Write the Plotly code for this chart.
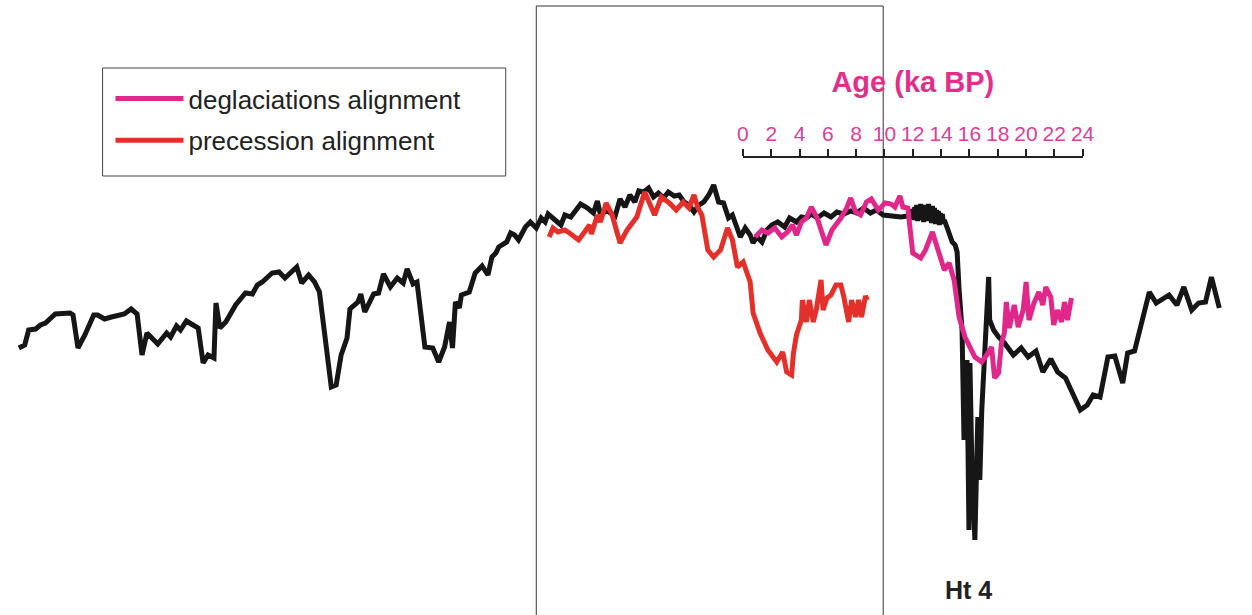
import plotly.graph_objects as go

# Black reference record, plotted against core depth (cm)
black_depth = [2.6, 3.8, 4.6, 6.0, 7.0, 8.0, 10.0, 11.4, 13.0, 13.6, 14.6, 16.0, 17.8, 18.6, 20.0, 21.4, 22.6, 24.0, 25.4, 26.6,
               27.6, 28.6, 30.8, 32.6, 33.4, 34.6, 35.4, 36.6, 37.6, 39.0, 40.0, 41.0, 42.2, 42.6, 43.4,
               44.6, 46.6, 48.6, 50.0, 51.0, 52.0, 54.0, 55.4, 56.6, 59.0, 60.0, 61.4, 62.6, 63.6, 65.0, 66.0, 67.0, 68.0,
               69.2, 69.8, 71.4, 72.0, 72.8, 74.6, 75.6, 76.6, 78.0, 79.4, 80.6, 81.4, 82.6, 83.4,
               85.0, 86.6, 87.8, 89.0, 90.0, 90.6, 91.2, 92.0, 92.4, 94.0, 95.2, 96.6, 97.8, 98.6, 99.4, 100.0, 100.6,
               101.6, 102.4, 103.2, 104.0, 105.4, 106.4, 107.6, 108.6, 109.4, 110.0, 111.4, 112.6, 113.4, 114.6, 116.6,
               118.0, 119.2,
               120.0, 120.6, 122.0, 123.6, 124.6, 125.6, 126.6, 127.6, 128.4, 129.4, 130.4, 131.4, 132.4, 133.4, 134.4,
               135.6, 136.6, 137.6, 138.6, 139.6, 140.6, 141.6, 142.6, 143.6, 144.6, 145.6, 146.6, 147.4, 148.0, 149.0,
               150.0, 151.0, 151.6, 152.4, 153.4, 154.4, 155.4, 156.6, 158.0, 159.0, 160.4, 161.4, 162.4, 163.4, 164.6,
               166.0, 167.4, 168.6, 170.0, 171.4, 172.6, 174.0, 175.4, 176.6, 178.0, 180.0, 181.6, 183.0, 183.6,
               184.0, 184.2, 184.4, 184.6, 184.8, 185.0, 185.2, 185.4, 185.6, 185.8, 186.0, 186.2, 186.4, 186.6, 186.8,
               187.0, 187.2, 187.4, 187.6, 187.8, 188.0, 188.2, 188.4, 188.6, 188.8, 189.0, 189.2, 189.4, 189.6, 189.8,
               190.0, 190.2, 190.4,
               191.0, 191.4, 192.0, 192.6, 193.0, 193.4, 194.0, 194.4, 195.0, 195.4, 195.6, 196.0, 196.6, 197.2, 197.6,
               198.0, 198.6, 199.4, 199.6, 200.4, 201.4, 202.6, 204.4, 206.0, 207.4, 209.0, 210.4, 212.0, 213.4, 215.0,
               218.0, 219.4, 220.6, 222.0, 223.6, 225.0, 226.6, 227.6, 229.0, 230.6, 232.0, 233.4, 236.0, 237.6, 239.0,
               240.6, 242.0, 243.4, 244.6, 246.2]
black_value = [5.2, 5.5, 7.0, 7.1, 7.5, 7.7, 8.6, 8.6, 8.7, 8.5, 5.2, 6.5, 8.5, 8.5, 8.1, 8.3, 8.4, 8.6, 9.1, 8.6,
               4.5, 6.7, 5.6, 6.7, 6.3, 7.4, 7.0, 7.9, 7.6, 7.2, 3.7, 4.5, 4.2, 9.7, 7.2,
               7.8, 9.5, 10.7, 10.6, 11.5, 11.8, 12.7, 12.8, 12.2, 13.3, 11.7, 12.5, 11.8, 10.8, 5.5, 1.3, 1.5, 4.5,
               6.2, 9.1, 9.8, 10.6, 8.8, 10.6, 10.7, 12.6, 11.3, 12.2, 11.7, 13.1, 11.6, 11.8,
               5.3, 5.2, 3.8, 5.3, 7.8, 5.2, 9.8, 9.2, 10.5, 10.8, 12.7, 13.4, 12.5, 14.3, 14.7, 15.3, 15.5,
               15.8, 16.7, 16.5, 16.0, 17.3, 17.8, 17.2, 18.2, 17.8, 18.6, 18.0, 17.5, 18.5, 18.3, 19.6,
               19.2, 18.7,
               19.9, 18.6, 18.9, 18.4, 20.1, 19.3, 20.5, 19.8, 20.9, 20.8, 21.2, 20.3, 20.7, 20.2, 20.8,
               20.4, 20.5, 19.8, 19.5, 18.8, 19.5, 19.8, 20.5, 21.5, 19.8, 19.7, 18.2, 18.5, 17.7, 16.3,
               17.2, 16.5, 15.7, 16.3, 15.8, 17.0, 17.5, 17.8, 17.3, 18.2, 17.8, 18.3, 18.2, 18.6, 18.2,
               18.7, 18.3, 18.8, 18.6, 18.9, 18.7, 19.2, 18.7, 19.0, 18.5, 18.4, 18.3, 18.4, 18.8,
               19.0, 18.0, 19.3, 18.2, 19.5, 17.9, 19.2, 18.1, 19.6, 18.0, 19.4, 17.8, 19.5, 18.3, 19.3,
               17.9, 19.6, 18.2, 19.1, 17.7, 19.4, 18.0, 19.2, 17.6, 19.0, 17.8, 18.9, 17.5, 18.7, 17.6,
               18.6, 17.7, 18.0,
               17.2, 16.7, 15.8, 15.5, 14.8, 11.0, 7.0, -4.0, 4.0, -13.0, 3.7, -6.7, -14.0, -1.7, -8.0,
               -1.0, 4.3, 12.3, 8.0, 7.0, 6.3, 5.7, 4.5, 5.2, 4.3, 4.9, 2.8, 4.1, 2.8, 2.2,
               -1.0, -0.5, 0.5, 0.3, 4.3, 4.4, 1.7, 4.7, 4.9, 8.3, 10.8, 9.7, 10.5, 9.5, 11.3,
               9.0, 9.7, 9.8, 12.3, 9.2]

# Same proxy record on the precession-aligned age model (ka)
prec_age = [0.91, 1.18, 1.53, 2.02, 2.44, 2.99, 3.41, 3.76, 3.90, 4.32, 4.53, 4.94, 5.36, 5.92, 6.41, 7.10,
            7.66, 8.01, 8.36, 8.84, 9.40, 9.89, 10.38, 10.79, 11.14, 11.42, 11.70, 12.12, 12.53, 13.02, 13.51,
            13.86, 14.21, 14.62, 15.11, 15.32, 15.81, 16.36, 16.99, 17.41, 17.69, 18.04, 18.17, 18.38, 18.73,
            18.80, 19.08, 19.29, 19.57, 19.78, 20.12, 20.26, 20.54, 20.82, 21.17, 21.52, 21.73, 22.07, 22.28,
            22.56, 22.77, 22.98, 23.26, 23.40]
prec_value = [16.3, 17.2, 16.8, 17.0, 16.6, 16.0, 16.8, 17.5, 16.6, 18.5, 17.8, 19.7, 18.5, 15.7, 17.0, 18.3,
              20.8, 19.5, 18.5, 20.3, 19.7, 19.0, 19.8, 19.2, 20.5, 19.2, 18.5, 15.0, 14.3, 15.0, 17.2,
              16.0, 13.3, 13.8, 11.8, 8.7, 6.7, 5.0, 3.8, 4.8, 2.8, 2.5, 4.7, 6.5, 8.0,
              10.0, 7.8, 10.0, 7.8, 9.0, 12.0, 9.0, 10.2, 10.5, 11.5, 11.5, 10.3, 7.8, 10.0,
              8.3, 10.0, 8.3, 10.4, 10.0]

# Same proxy record on the deglaciations-aligned age model (ka BP)
degl_age = [0.86, 1.34, 1.76, 2.25, 2.74, 3.15, 3.50, 3.78, 4.13, 4.48, 4.83, 5.24, 5.87, 6.29, 6.92, 7.33,
            7.61, 7.96, 8.31, 8.73, 9.07, 9.56, 10.05, 10.47, 10.74, 11.09, 11.30, 11.65, 12.00, 12.56, 12.90,
            13.39, 13.74, 14.23, 14.57, 14.92, 15.27, 15.69, 16.39, 16.87, 17.22, 17.57, 17.78, 18.06, 18.27,
            18.47, 18.61, 18.82, 19.17, 19.45, 19.80, 20.01, 20.21, 20.56, 20.91, 21.19, 21.40, 21.75, 21.96,
            22.23, 22.51, 22.72, 22.93, 23.21]
degl_value = [16.3, 17.0, 16.7, 17.2, 16.3, 16.8, 17.5, 16.5, 17.8, 18.2, 19.3, 18.2, 15.5, 17.0, 18.2, 19.2,
              20.2, 18.8, 18.5, 19.8, 20.1, 19.0, 19.7, 19.6, 19.3, 20.4, 19.3, 19.2, 14.7, 14.2, 15.0,
              16.8, 15.2, 13.0, 13.7, 12.0, 8.3, 6.3, 4.3, 3.8, 4.5, 5.3, 2.2, 2.7, 5.7,
              6.7, 9.8, 7.2, 9.5, 7.3, 9.0, 11.8, 8.0, 9.7, 10.8, 9.5, 11.3, 10.3, 7.5,
              9.0, 7.8, 9.8, 8.0, 10.2]

age_ticks = list(range(0, 25, 2))

BLACK = "#161616"
RED = "#e3302a"
MAGENTA = "#e0288a"
W, H = 1252, 615

fig = go.Figure()
fig.add_trace(go.Scatter(x=black_depth, y=black_value, xaxis="x", yaxis="y", mode="lines",
                         line=dict(color=BLACK, width=5), showlegend=False, hoverinfo="skip"))
fig.add_trace(go.Scatter(x=prec_age, y=prec_value, xaxis="x3", yaxis="y", mode="lines",
                         line=dict(color=RED, width=5), name="precession alignment",
                         legendrank=2, legendgroup="b"))
fig.add_trace(go.Scatter(x=degl_age, y=degl_value, xaxis="x2", yaxis="y", mode="lines",
                         line=dict(color=MAGENTA, width=5), name="deglaciations alignment",
                         legendrank=1, legendgroup="a"))

fig.update_layout(
    width=W, height=H, autosize=False,
    margin=dict(l=0, r=0, t=0, b=0),
    paper_bgcolor="white", plot_bgcolor="rgba(0,0,0,0)",
    font=dict(family="Liberation Sans, Arial, sans-serif", color="#222"),
    xaxis=dict(range=[0, 250.4], visible=False, domain=[0, 1]),
    xaxis3=dict(range=[-37.463, 49.718], visible=False, overlaying="x"),
    xaxis2=dict(
        domain=[747.7 / W, 1092.3 / W], range=[0, 24], side="top", anchor="free",
        position=1 - 157 / H, showline=True, linecolor="#222", linewidth=1.5,
        ticks="outside", ticklen=7, tickwidth=1.5, tickcolor="#222",
        tickmode="array", tickvals=age_ticks, ticktext=[str(t) for t in age_ticks],
        tickfont=dict(size=21, color="#d8409a"),
        showgrid=False, zeroline=False,
        title=dict(text="<b>Age (ka BP)</b>", font=dict(size=29, color="#e0308a"), standoff=20),
    ),
    yaxis=dict(range=[-21.5, 40], visible=False, domain=[0, 1]),
    legend=dict(
        x=106 / W, y=1 - 75 / H, xanchor="left", yanchor="top",
        bgcolor="rgba(0,0,0,0)", borderwidth=0,
        font=dict(size=26, color="#222"), itemwidth=68,
        traceorder="grouped", tracegroupgap=5,
    ),
    shapes=[
        dict(type="rect", xref="x3", yref="paper", x0=0, x1=24.51, y0=-0.05, y1=1 - 6 / H,
             line=dict(color="#333", width=1), layer="below"),
        dict(type="rect", xref="paper", yref="paper", x0=98 / W, x1=507 / W,
             y0=1 - 176 / H, y1=1 - 68 / H, line=dict(color="#444", width=1), layer="above"),
    ],
    annotations=[
        dict(text="<b>Ht 4</b>", xref="paper", yref="paper", x=977 / W, y=1 - 590 / H,
             showarrow=False, font=dict(size=25, color="#222"), xanchor="center", yanchor="middle"),
    ],
)

fig.write_html("out.html",
               post_script="document.body.style.margin='0';document.body.style.overflow='hidden';")
